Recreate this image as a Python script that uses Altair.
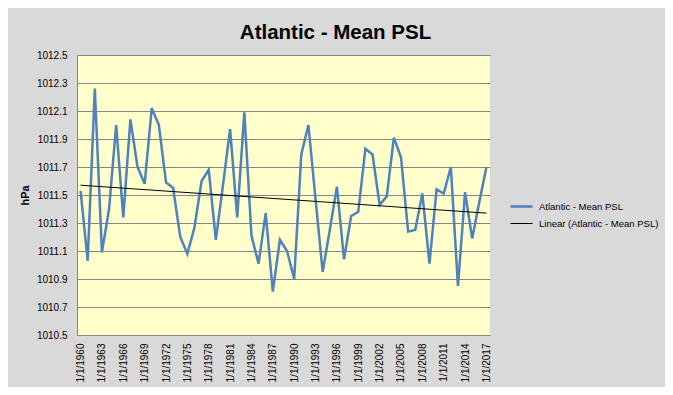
import altair as alt
import pandas as pd

years = list(range(1960, 2018))
psl = [1011.53, 1011.03, 1012.26, 1011.09, 1011.40, 1012.00, 1011.34, 1012.04, 1011.70, 1011.58,
       1012.12, 1012.00, 1011.59, 1011.55, 1011.20, 1011.08, 1011.27, 1011.60, 1011.68, 1011.18,
       1011.57, 1011.97, 1011.34, 1012.09, 1011.21, 1011.01, 1011.37, 1010.81, 1011.18, 1011.10,
       1010.90, 1011.79, 1012.00, 1011.47, 1010.95, 1011.25, 1011.56, 1011.04, 1011.35, 1011.38,
       1011.83, 1011.79, 1011.43, 1011.49, 1011.91, 1011.77, 1011.24, 1011.25, 1011.51, 1011.01,
       1011.54, 1011.51, 1011.70, 1010.85, 1011.52, 1011.19, 1011.45, 1011.70]
tick_years = list(range(1960, 2018, 3))
y_ticks = [1010.5, 1010.7, 1010.9, 1011.1, 1011.3, 1011.5, 1011.7, 1011.9, 1012.1, 1012.3, 1012.5]
series_names = ["Atlantic - Mean PSL", "Linear (Atlantic - Mean PSL)"]
series_colors = ["#4f81bd", "#000000"]
series_widths = [2.5, 1.0]

df = pd.DataFrame({"year": years, "psl": psl})

FONT = "Liberation Sans"

x_enc = alt.X("year:Q",
              scale=alt.Scale(domain=[1959.5, 2017.5], nice=False, zero=False),
              axis=alt.Axis(values=tick_years, labelExpr="'1/1/' + datum.value",
                            labelAngle=270, labelPadding=8, ticks=False, tickSize=0,
                            grid=False, title=None, domainColor="#868686",
                            labelFont=FONT, labelFontSize=10, labelColor="#000000"))
y_enc = alt.Y("psl:Q",
              scale=alt.Scale(domain=[1010.5, 1012.5], nice=False, zero=False),
              axis=alt.Axis(values=y_ticks, format=".1f", ticks=False, tickSize=0,
                            labelPadding=10, grid=True, gridColor="#868686", gridWidth=1,
                            domainColor="#868686", title="hPa", titleFont=FONT,
                            titleFontSize=11, titleFontWeight="bold", titleColor="#000000",
                            titleX=-48.5, titleY=140, titleBaseline="alphabetic",
                            labelFont=FONT, labelFontSize=10, labelColor="#000000"))

legend_kw = dict(title=None, orient="none", legendX=432, legendY=139,
                 symbolType="stroke", symbolSize=484,
                 labelFont=FONT, labelFontSize=9.5, labelColor="#000000",
                 rowPadding=-1.5, padding=0, labelOffset=5)

color_enc = alt.Color("series:N",
                      scale=alt.Scale(domain=series_names, range=series_colors),
                      legend=alt.Legend(**legend_kw))
sw_enc = alt.StrokeWidth("series:N",
                         scale=alt.Scale(domain=series_names, range=series_widths),
                         legend=alt.Legend(**legend_kw))

base = alt.Chart(df)

line = base.transform_calculate(series="'Atlantic - Mean PSL'").mark_line().encode(
    x=x_enc, y=y_enc, color=color_enc, strokeWidth=sw_enc)

trend = base.transform_regression("year", "psl").transform_calculate(
    series="'Linear (Atlantic - Mean PSL)'").mark_line().encode(
    x=x_enc, y=y_enc, color=color_enc, strokeWidth=sw_enc)

chart = alt.layer(line, trend).properties(
    width=413, height=280,
    title=alt.TitleParams("Atlantic - Mean PSL", font=FONT, fontSize=20.5, fontWeight="bold",
                          color="#000000", anchor="middle", frame="group", dx=52,
                          offset=20, dy=29, baseline="alphabetic"),
    background="#d9d9d9",
    autosize=alt.AutoSizeParams(type="none"),
    padding={"left": 69, "top": 47, "right": 175, "bottom": 52},
).configure_view(fill="#ffffcc", stroke=None)

chart.save("out.html", embed_options={"renderer": "svg", "actions": False})
